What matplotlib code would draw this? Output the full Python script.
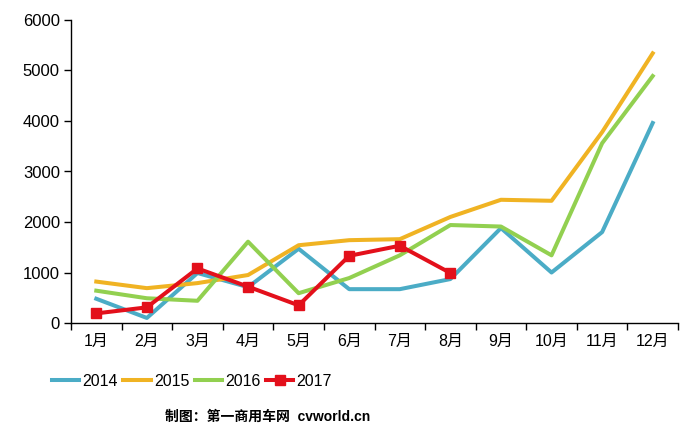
import numpy as np
import matplotlib
matplotlib.use("Agg")
import matplotlib.pyplot as plt

plt.rcParams['font.family'] = ['Liberation Sans', 'Noto Sans CJK SC', 'DejaVu Sans']

months = ["1月", "2月", "3月", "4月", "5月", "6月", "7月", "8月", "9月", "10月", "11月", "12月"]
s2014 = [480, 100, 990, 710, 1470, 670, 670, 870, 1880, 1000, 1800, 3960]
s2015 = [820, 690, 790, 950, 1540, 1640, 1660, 2100, 2440, 2420, 3780, 5340]
s2016 = [640, 490, 440, 1610, 590, 890, 1340, 1940, 1910, 1340, 3560, 4890]
s2017 = [190, 310, 1080, 720, 350, 1330, 1530, 990]

fig = plt.figure(figsize=(6.94, 4.36), dpi=100)
ax = fig.add_axes([71/694, 1-323/436, 607/694, 303/436])

x = np.arange(len(months))
ax.plot(x, s2014, color="#4BACC6", lw=2.9, label="2014")
ax.plot(x, s2015, color="#F0B323", lw=2.9, label="2015")
ax.plot(x, s2016, color="#92D050", lw=2.9, label="2016")
ax.plot(x[:len(s2017)], s2017, color="#E3101B", lw=2.9, marker="s", ms=7.5, label="2017")

ax.set_xlim(-0.5, len(months) - 0.5)
ax.set_ylim(0, 6000)
ax.set_yticks(range(0, 6001, 1000))
ax.set_xticks(x)
ax.set_xticklabels(months)
ax.set_xticks(np.arange(-0.5, len(months), 1), minor=True)
ax.tick_params(axis="x", which="major", length=0, pad=8, labelsize=11.5)
ax.tick_params(axis="x", which="minor", length=5, direction="out", width=1)
ax.tick_params(axis="y", length=5, direction="out", width=1, labelsize=12, pad=3)
for s in ["top", "right"]:
    ax.spines[s].set_visible(False)
for s in ["left", "bottom"]:
    ax.spines[s].set_linewidth(1)
    ax.spines[s].set_color("black")

ax.legend(loc="upper left", bbox_to_anchor=(-0.055, -0.12), ncol=4, frameon=False,
          fontsize=11.5, handlelength=1.7, handletextpad=0.2, columnspacing=0.35)

fig.text(268/694, 1-417/436, "制图：第一商用车网  cvworld.cn", ha="center", va="center",
         fontsize=10, fontweight="bold")

fig.savefig("out.png", dpi=100)
